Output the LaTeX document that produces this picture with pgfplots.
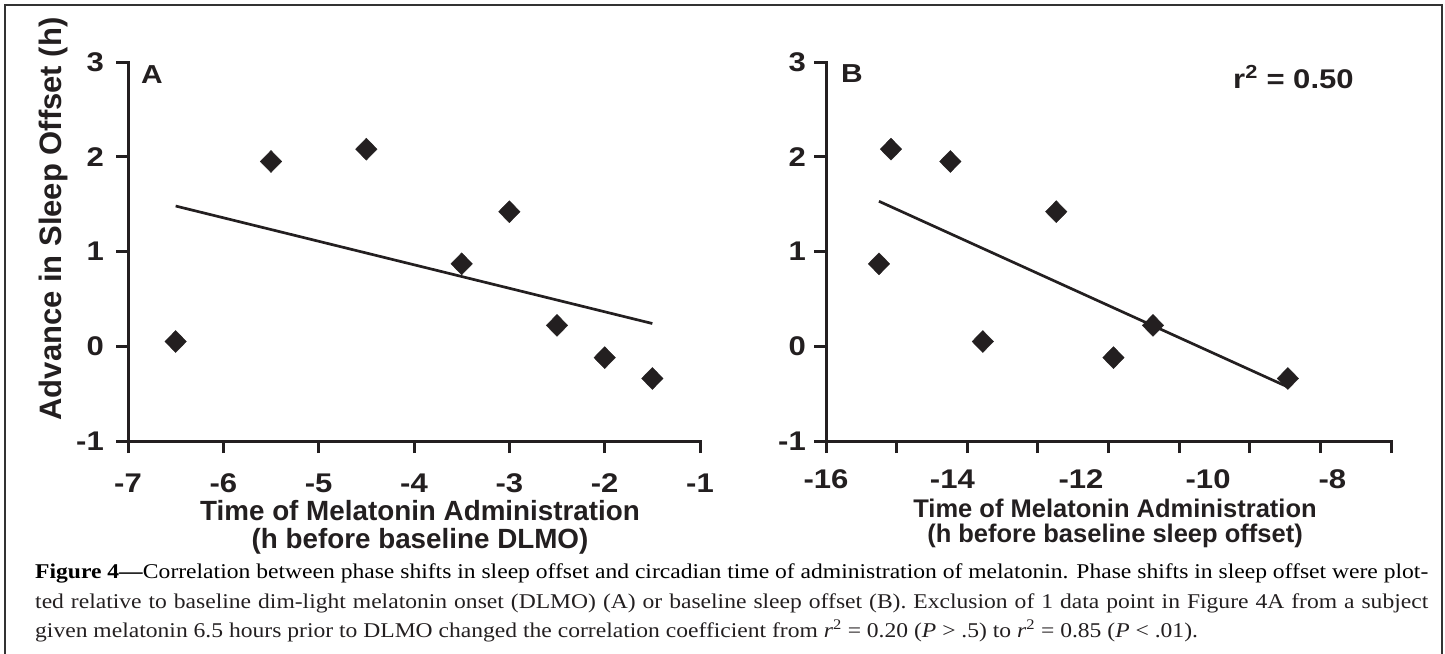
\documentclass[border=0pt]{standalone}
\usepackage{fontspec}
\setmainfont{Liberation Sans}
\newfontfamily\widefont{Liberation Sans}[FakeStretch=1.15]
\newfontfamily\capfont{Liberation Serif}
\usepackage{graphicx}
\usepackage{pgfplots}
\pgfplotsset{compat=1.18}
\definecolor{ink}{HTML}{231F20}
\newsavebox\capone

\pgfplotsset{
  panel/.style={
    scale only axis, height=379pt,
    enlargelimits=false, clip=false,
    axis x line*=bottom, axis y line*=left,
    axis line style={-, line width=3pt, line cap=rect, draw=ink},
    tick align=outside, major tick length=12pt,
    tick style={line width=3pt, draw=ink},
    ymin=-1, ymax=3, ytick={-1,0,1,2,3}, yticklabels={-1,0,1,2,3},
    tick label style={font=\widefont\fontsize{27}{29}\selectfont\bfseries, text=ink, inner sep=0pt},
    xticklabel style={anchor=base, yshift=-39pt},
  },
  dots/.style={only marks, mark=diamond*, mark size=11pt,
    mark options={draw=ink, fill=ink, xscale=1.3}},
  fit/.style={no marks, line width=2.7pt, draw=ink},
}

\begin{document}%
% caption line 1, measured first so the lines can be spread to the figure width
\sbox\capone{\capfont\fontsize{21}{25}\selectfont\textbf{Figure 4—}Correlation between phase shifts in sleep offset and circadian time of administration of melatonin. Phase shifts in sleep offset were plot-}%
\pgfmathsetmacro\capscale{1393/\the\wd\capone}%
\begin{tikzpicture}
\useasboundingbox (0,0) rectangle (1445pt,-653pt);

% frame
\draw[line width=2pt, black!80] (5pt,-680pt) -- (5pt,-5pt) -- (1442pt,-5pt) -- (1442pt,-680pt);

% panel A
\begin{axis}[panel, at={(128pt,-441pt)}, anchor=south west, width=572pt,
  xmin=-7, xmax=-1, xtick={-7,...,-1}, xticklabels={-7,-6,-5,-4,-3,-2,-1},
  yticklabel style={anchor=east, xshift=-12pt}]
\addplot[dots] coordinates {
  (-6.5,0.05) (-5.5,1.95) (-4.5,2.08) (-3.5,0.87)
  (-3,1.42) (-2.5,0.22) (-2,-0.12) (-1.5,-0.34)
};
\addplot[fit] coordinates {(-6.5,1.48) (-1.5,0.24)};
\end{axis}

% panel B: ticks every hour, labels where the original prints them
\begin{axis}[panel, at={(826pt,-441pt)}, anchor=south west, width=565pt,
  xmin=-16, xmax=-8, xtick={-16,...,-8}, xticklabels={},
  extra x ticks={-16,-14.21,-12.39,-10.59,-8.83},
  extra x tick labels={-16,-14,-12,-10,-8},
  extra x tick style={tick style={draw=none}, xticklabel style={yshift=4pt}},
  yticklabel style={anchor=east, xshift=-8pt}]
\addplot[dots] coordinates {
  (-15.25,0.87) (-15.08,2.08) (-14.24,1.95) (-13.78,0.05)
  (-12.74,1.42) (-11.93,-0.12) (-11.37,0.22) (-9.46,-0.34)
};
\addplot[fit] coordinates {(-15.25,1.53) (-9.46,-0.43)};
\end{axis}

% panel letters and labels
\begin{scope}[every node/.style={text=ink, inner sep=0pt}]
\node[anchor=base west, font=\widefont\fontsize{26}{28}\selectfont\bfseries] at (141pt,-83pt) {A};
\node[anchor=base west, font=\widefont\fontsize{26}{28}\selectfont\bfseries] at (841pt,-82pt) {B};
\node[anchor=base west, font=\widefont\fontsize{27}{30}\selectfont\bfseries] at (1233pt,-88pt) {r\textsuperscript{2} = 0.50};
\node[rotate=90, anchor=base, font=\fontsize{31}{34}\selectfont\bfseries] at (61pt,-219pt) {Advance in Sleep Offset (h)};
\node[anchor=base, font=\fontsize{27.8}{30}\selectfont\bfseries] at (420pt,-520pt) {Time of Melatonin Administration};
\node[anchor=base, font=\fontsize{27.8}{30}\selectfont\bfseries] at (420pt,-548pt) {(h before baseline DLMO)};
\node[anchor=base, font=\fontsize{25.5}{28}\selectfont\bfseries] at (1115pt,-517pt) {Time of Melatonin Administration};
\node[anchor=base, font=\fontsize{25.5}{28}\selectfont\bfseries] at (1115pt,-542pt) {(h before baseline sleep offset)};

\node[anchor=base west] at (35pt,-578pt) {\scalebox{\capscale}[1]{\usebox\capone}};
\node[anchor=base west] at (35pt,-608pt) {\scalebox{\capscale}[1]{\capfont\fontsize{21}{25}\selectfont\makebox[\wd\capone][s]{ted relative to baseline dim-light melatonin onset (DLMO) (A) or baseline sleep offset (B). Exclusion of 1 data point in Figure 4A from a subject}}};
\node[anchor=base west] at (35pt,-637pt) {\scalebox{\capscale}[1]{\capfont\fontsize{21}{25}\selectfont given melatonin 6.5 hours prior to DLMO changed the correlation coefficient from \textit{r}\textsuperscript{2} = 0.20 (\textit{P} > .5) to \textit{r}\textsuperscript{2} = 0.85 (\textit{P} < .01).}};
\end{scope}
\end{tikzpicture}%
\end{document}
